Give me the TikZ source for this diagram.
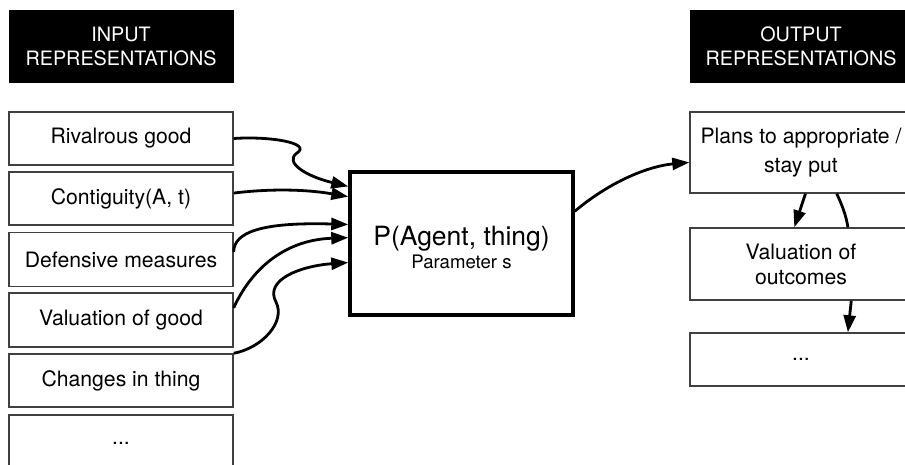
\documentclass[tikz,border=0pt]{standalone}
\usepackage{fontspec}
\setmainfont{TeX Gyre Heros}
\usetikzlibrary{arrows.meta,calc}

\begin{document}
\begin{tikzpicture}[x=1pt,y=-1pt,
  header/.style={fill=black,draw=black,text=white,font=\fontsize{19.8}{24}\selectfont,align=center,inner sep=0pt},
  itembox/.style={draw=black!75,line width=1.4pt,fill=white,font=\fontsize{21.2}{25}\selectfont,align=center,inner sep=0pt},
  mainbox/.style={draw=black,line width=3.4pt,fill=white,inner sep=0pt},
  flow/.style={line width=2.8pt,-{Triangle[length=17pt,width=12pt]}},
  plain/.style={line width=2.8pt}
]
\useasboundingbox (0,0) rectangle (905,464);
\clip (0,0) rectangle (905,464);

% input column
\node[header,minimum width=224pt,minimum height=72pt] (inhead) at (121,46) {INPUT\\REPRESENTATIONS};
\node[itembox,minimum width=224pt,minimum height=53pt] (rival)  at (121,138.5) {Rivalrous good};
\node[itembox,minimum width=224pt,minimum height=53pt] (contig) at (121,198.5) {Contiguity(A, t)};
\node[itembox,minimum width=224pt,minimum height=54pt] (defend) at (121,259.5) {Defensive measures};
\node[itembox,minimum width=224pt,minimum height=54pt] (valgood) at (121,320) {Valuation of good};
\node[itembox,minimum width=224pt,minimum height=53pt] (change) at (121,380.5) {Changes in thing};
\node[itembox,minimum width=224pt,minimum height=56pt] (inmore) at (121,443) {...};

% central function
\node[mainbox,minimum width=223pt,minimum height=143pt] (pbox) at (461.5,243.5) {};
\node[inner sep=0pt,font=\fontsize{26.5}{28}\selectfont] (ptext) at (461.5,239) {P(Agent, thing)};
\node[inner sep=0pt,font=\fontsize{18.6}{22}\selectfont] (pparam) at (461.5,262) {Parameter s};

% output column
\node[header,minimum width=222pt,minimum height=72pt] (outhead) at (801,46) {OUTPUT\\REPRESENTATIONS};
\node[itembox,minimum width=222pt,minimum height=81pt,font=\fontsize{21.2}{29}\selectfont] (plans) at (801,152.5) {Plans to appropriate /\\stay put};
\node[itembox,minimum width=222pt,minimum height=72pt] (valout) at (801,264) {Valuation of\\outcomes};
\node[itembox,minimum width=222pt,minimum height=53pt] (outmore) at (801,359.5) {...};

% inputs into the function
\draw[flow] (rival.east) .. controls (270,136) and (312,143) .. (297,153)
  .. controls (284,162) and (305,176) .. ($(pbox.north west)!0.11!(pbox.south west)$);
\draw[flow] ($(contig.north east)!0.4!(contig.south east)$) .. controls (275,188) and (310,190) .. ($(pbox.north west)!0.18!(pbox.south west)$);
\draw[flow] ($(defend.north east)!0.36!(defend.south east)$) .. controls (234,232) and (262,222) .. ($(pbox.north west)!0.37!(pbox.south west)$);
\draw[flow] ($(valgood.north east)!0.28!(valgood.south east)$) .. controls (250,272) and (282,240) .. ($(pbox.north west)!0.46!(pbox.south west)$);
\draw[flow] (change.north east) .. controls (262,348) and (286,322) .. (276,302)
  .. controls (264,280) and (300,266) .. ($(pbox.north west)!0.63!(pbox.south west)$);

% function to outputs
\draw[flow] ($(pbox.north east)!0.28!(pbox.south east)$) .. controls (612,180) and (650,166) .. ($(plans.north west)!0.62!(plans.south west)$);
\draw[flow] ($(plans.south west)!0.52!(plans.south east)$) -- ($(valout.north west)!0.47!(valout.north east)$);
\draw[plain] ($(plans.south west)!0.66!(plans.south east)$) .. controls (842,205) and (846,215) .. ($(valout.north west)!0.71!(valout.north east)$);
\draw[flow] ($(valout.south west)!0.725!(valout.south east)$) -- ($(outmore.north west)!0.71!(outmore.north east)$);
\end{tikzpicture}
\end{document}
